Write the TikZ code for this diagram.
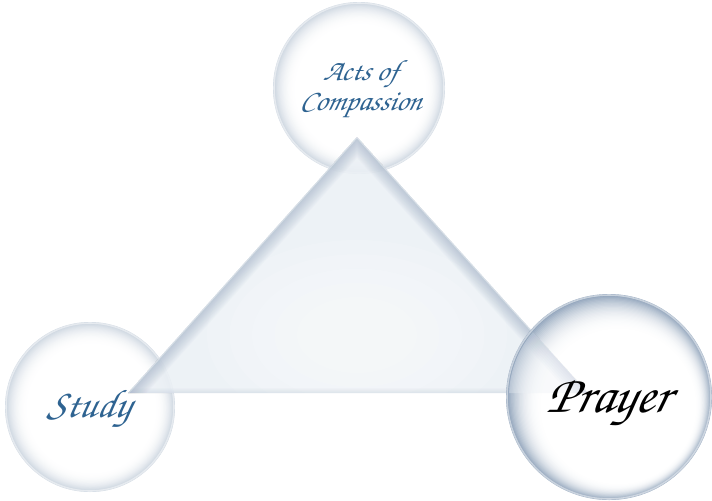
\documentclass[tikz,border=0pt]{standalone}
\usepackage[T1]{fontenc}
\usetikzlibrary{calc}
\definecolor{rim}{HTML}{6F88A6}
\definecolor{inkblue}{HTML}{2E6391}
\definecolor{trifill}{HTML}{EBF0F5}
\definecolor{triedge}{HTML}{8FA3BC}
\newcommand\chancery{\fontencoding{T1}\fontfamily{pzc}\fontseries{mb}\fontshape{it}\selectfont}
% #1 centre name, #2 radius (px), #3 max darkness (percent), #4 shift per ring (px)
\newcommand\drawbubble[4]{%
  \foreach \i in {0,...,30}{%
    \pgfmathsetmacro\rr{#2*(1-\i*0.009)}%
    \pgfmathsetmacro\pp{#3*(1-\i/30)^2.6}%
    \pgfmathsetmacro\ss{#4*\i}%
    \fill[rim!\pp!white] ($(#1)+(\ss,\ss)$) circle[radius=\rr];
  }%
  \pgfmathsetmacro\ss{#4*30}%
  \pgfmathsetmacro\rr{#2*0.73}%
  \fill[white] ($(#1)+(\ss,\ss)$) circle[radius=\rr];
  \pgfmathsetmacro\rr{#2-1}%
  \draw[white, opacity=0.5, line width=1.2pt] (#1) circle[radius=\rr];
}
\tikzset{
  lbl/.style={anchor=base, inner sep=0pt, text=inkblue, transform shape, xslant=0.22},
}
\begin{document}
\begin{tikzpicture}[x=0.75pt,y=-0.75pt]
\useasboundingbox (0,0) rectangle (712,500);
\coordinate (top) at (359,88);
\coordinate (left) at (90,407);
\coordinate (right) at (609,397);
% circles behind the triangle
\drawbubble{top}{86}{38}{0.06}
\drawbubble{left}{85}{38}{0.06}
% triangle
\coordinate (A) at (357,137);
\coordinate (B) at (128,393);
\coordinate (C) at (588,393);
\fill[trifill, opacity=0.88] (A) -- (B) -- (C) -- cycle;
\begin{scope}
\clip (A) -- (B) -- (C) -- cycle;
\foreach \s in {1.0,0.85,0.7,0.55,0.4}{
  \pgfmathsetmacro\ea{150*\s}
  \pgfmathsetmacro\eb{95*\s}
  \fill[white, opacity=0.12] (357,335) ellipse ({\ea} and {\eb});
}
\foreach \w in {2,4,...,28}{
  \draw[triedge, line width=\w*0.75pt, opacity=0.045, line join=miter] (B) -- (A) -- (C);
}
\draw[white, line width=1.5pt, opacity=0.4, line join=miter] (B) -- (A) -- (C);
\foreach \w in {2,4,...,10}{
  \draw[triedge, line width=\w*0.75pt, opacity=0.035] (B) -- (C);
}
\end{scope}
% right bubble on top
\drawbubble{right}{103}{80}{0.35}
\begin{scope}
\clip (right) circle[radius=100];
\fill[trifill, opacity=0.35] (A) -- (B) -- (C) -- cycle;
\clip (A) -- (B) -- (C) -- cycle;
\foreach \w in {4,8,...,28}{
  \draw[triedge, line width=\w*0.75pt, opacity=0.03] (B) -- (A) -- (C);
}
\end{scope}
% labels
\node[lbl, font=\chancery\fontsize{22}{24}\selectfont] (t1) at (360,80) {Acts of};
\node[lbl, font=\chancery\fontsize{22}{24}\selectfont] (t2) at (360,110) {Compassion};
\node[lbl, font=\chancery\fontsize{30}{32}\selectfont] (s) at (88,417) {Study};
\node[lbl, text=black, font=\chancery\fontsize{40}{42}\selectfont] (p) at (607,412) {Prayer};
\end{tikzpicture}
\end{document}
